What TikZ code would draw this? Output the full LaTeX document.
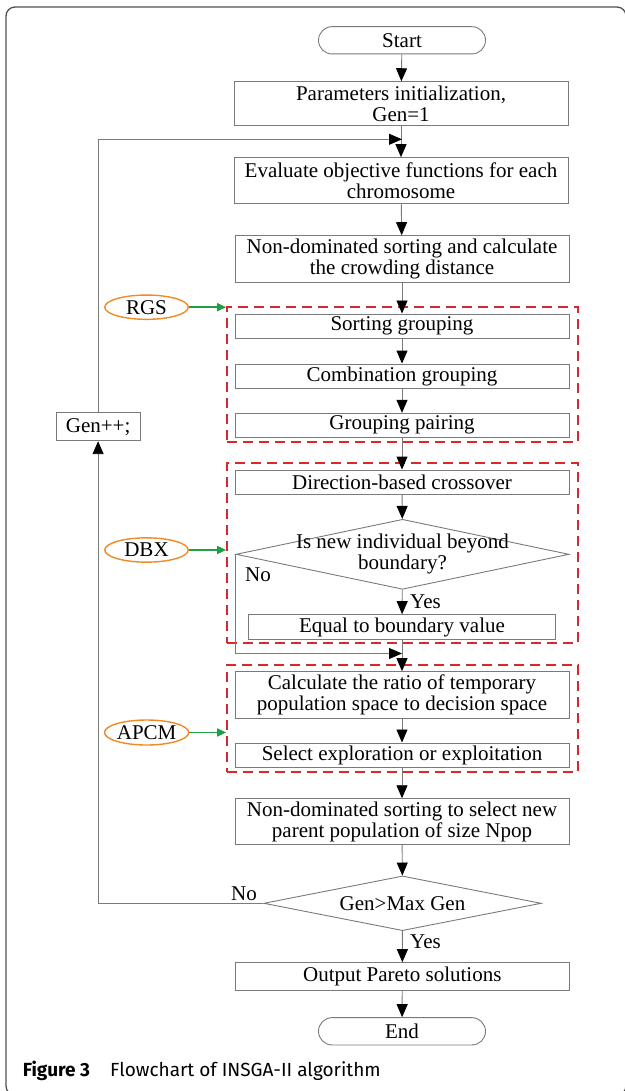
\documentclass[tikz,border=0pt]{standalone}
\usepackage{fontspec}
\setmainfont{Liberation Serif}
\newfontfamily\capfont{Fira Sans}
\usetikzlibrary{arrows.meta,shapes.geometric}
\definecolor{dashred}{HTML}{D42A2A}
\definecolor{tagorange}{HTML}{F08A24}
\definecolor{taggreen}{HTML}{1F9E45}
\definecolor{edgegray}{HTML}{7A7A7A}
\definecolor{framegray}{HTML}{505050}
\begin{document}
\begin{tikzpicture}[x=1pt,y=-1pt,
  txt/.style={font=\fontsize{21}{21}\selectfont},
  box/.style={draw=edgegray, line width=0.9pt, rectangle, align=center, inner sep=0pt,
              minimum width=334pt, txt},
  term/.style={draw=edgegray, line width=0.9pt, rectangle, rounded corners=13.6pt,
              minimum width=167pt, minimum height=27.3pt, inner sep=0pt, txt},
  dec/.style={draw=edgegray, line width=0.9pt, diamond, inner sep=0pt},
  tag/.style={draw=tagorange, line width=1.4pt, ellipse, inner sep=0pt, txt},
  grp/.style={draw=dashred, line width=1.7pt, dash pattern=on 10pt off 6pt, rectangle,
              minimum width=351pt, inner sep=0pt},
  flow/.style={draw=edgegray, line width=0.9pt, -{Triangle[width=11pt,length=13pt,black]}},
  gline/.style={draw=taggreen, line width=1.6pt, -{Triangle[width=8pt,length=9pt]}},
  lab/.style={txt, inner sep=0pt}
]
\useasboundingbox (0,0) rectangle (624,1091);
% outer frame
\draw[framegray, line width=1.3pt, rounded corners=9pt] (6,7) rectangle (626,1095);

% main column
\node[term] (start) at (402,40.3) {Start};
\node[box, minimum height=43.6pt] (init) at (401,103.5) {Parameters initialization,\\Gen=1};
\node[box, minimum height=46.3pt] (eval) at (401,180.8) {Evaluate objective functions for each\\chromosome};
\node[box, minimum height=46.3pt] (nds) at (402,258.8) {Non-dominated sorting and calculate\\the crowding distance};

% RGS group
\node[grp, minimum height=135pt] (rgsg) at (402.5,374.5) {};
\node[box, minimum height=24.7pt] (sortg) at (402,326.3) {Sorting grouping};
\node[box, minimum height=24.3pt] (combg) at (402,376.2) {Combination grouping};
\node[box, minimum height=24pt] (pair) at (402,425.3) {Grouping pairing};

% DBX group
\node[grp, minimum height=180pt] (dbxg) at (402.5,553) {};
\node[box, minimum height=24pt] (cross) at (402,482) {Direction-based crossover};
\node[dec, minimum width=333pt, minimum height=70pt] (bound) at (402.5,554.3) {};
\node[lab, align=center] (boundt) at (402.5,553.7) {Is new individual beyond\\boundary?};
\node[box, minimum width=307.6pt, minimum height=24.7pt] (equal) at (402,627) {Equal to boundary value};

% APCM group
\node[grp, minimum height=107pt] (apcmg) at (402.5,718.5) {};
\node[box, minimum height=46.3pt] (ratio) at (402,694.8) {Calculate the ratio of temporary\\population space to decision space};
\node[box, minimum height=24.7pt] (sel) at (402,755.3) {Select exploration or exploitation};

\node[box, minimum height=46pt] (ndsel) at (402,821.7) {Non-dominated sorting to select new\\parent population of size Npop};
\node[dec, minimum width=277.4pt, minimum height=54.7pt] (maxg) at (402.5,903.3) {};
\node[lab] (maxgt) at (402.5,903.3) {Gen>Max Gen};
\node[box, minimum height=27.3pt] (out) at (402.3,976.3) {Output Pareto solutions};
\node[term] (end) at (402,1031.3) {End};

% side items
\node[draw=edgegray, line width=0.9pt, rectangle, minimum width=84pt, minimum height=28pt, inner sep=0pt, txt] (gen) at (98.1,426.7) {Gen++;};
\node[tag, minimum width=83.5pt, minimum height=24.3pt] (rgs) at (146.5,307.2) {RGS};
\node[tag, minimum width=83.5pt, minimum height=24.3pt] (dbx) at (146.5,550) {DBX};
\node[tag, minimum width=81pt, minimum height=25pt] (apcm) at (146.6,732.5) {APCM};

% labels
\node[lab] (no1) at (258,575) {No};
\node[lab, anchor=west] (yes1) at (410,601.7) {Yes};
\node[lab] (no2) at (244,894) {No};
\node[lab, anchor=west] (yes2) at (410,941.7) {Yes};

% helper coordinates
\coordinate (fbtop) at (402,139.3);
\coordinate (nojoin) at (402,653.5);
\coordinate (fbcorner) at (98.1,903.3);

% main flow
\draw[flow] (start) -- (init);
\draw[flow] (init) -- (eval);
\draw[flow] (eval) -- (nds);
\draw[flow] (nds) -- (sortg);
\draw[flow] (sortg) -- (combg);
\draw[flow] (combg) -- (pair);
\draw[flow] (pair) -- (cross);
\draw[flow] (cross) -- (bound);
\draw[flow] (bound) -- (equal);
\draw[flow] (equal) -- (ratio);
\draw[flow] (ratio) -- (sel);
\draw[flow] (sel) -- (ndsel);
\draw[flow] (ndsel) -- (maxg);
\draw[flow] (maxg) -- (out);
\draw[flow] (out) -- (end);

% No branch of boundary check
\draw[flow] (bound.west) |- (nojoin);
% loop back
\draw[flow] (maxg.west) -- (fbcorner) -- (gen.south);
\draw[flow] (gen.north) |- (fbtop);

% tag arrows
\draw[gline] (rgs.east) -- (rgsg.west |- rgs.east);
\draw[gline] (dbx.east) -- (dbxg.west |- dbx.east);
\draw[gline] (apcm.east) -- (apcmg.west |- apcm.east);

% caption
\node[anchor=base west, inner sep=0pt, font=\capfont\fontsize{19}{19}\selectfont] (figl) at (22.7,1076.7) {\textbf{Figure 3}};
\node[anchor=base west, inner sep=0pt, font=\capfont\fontsize{19}{19}\selectfont] (capt) at (110,1076.7) {Flowchart of INSGA-II algorithm};
\end{tikzpicture}
\end{document}
